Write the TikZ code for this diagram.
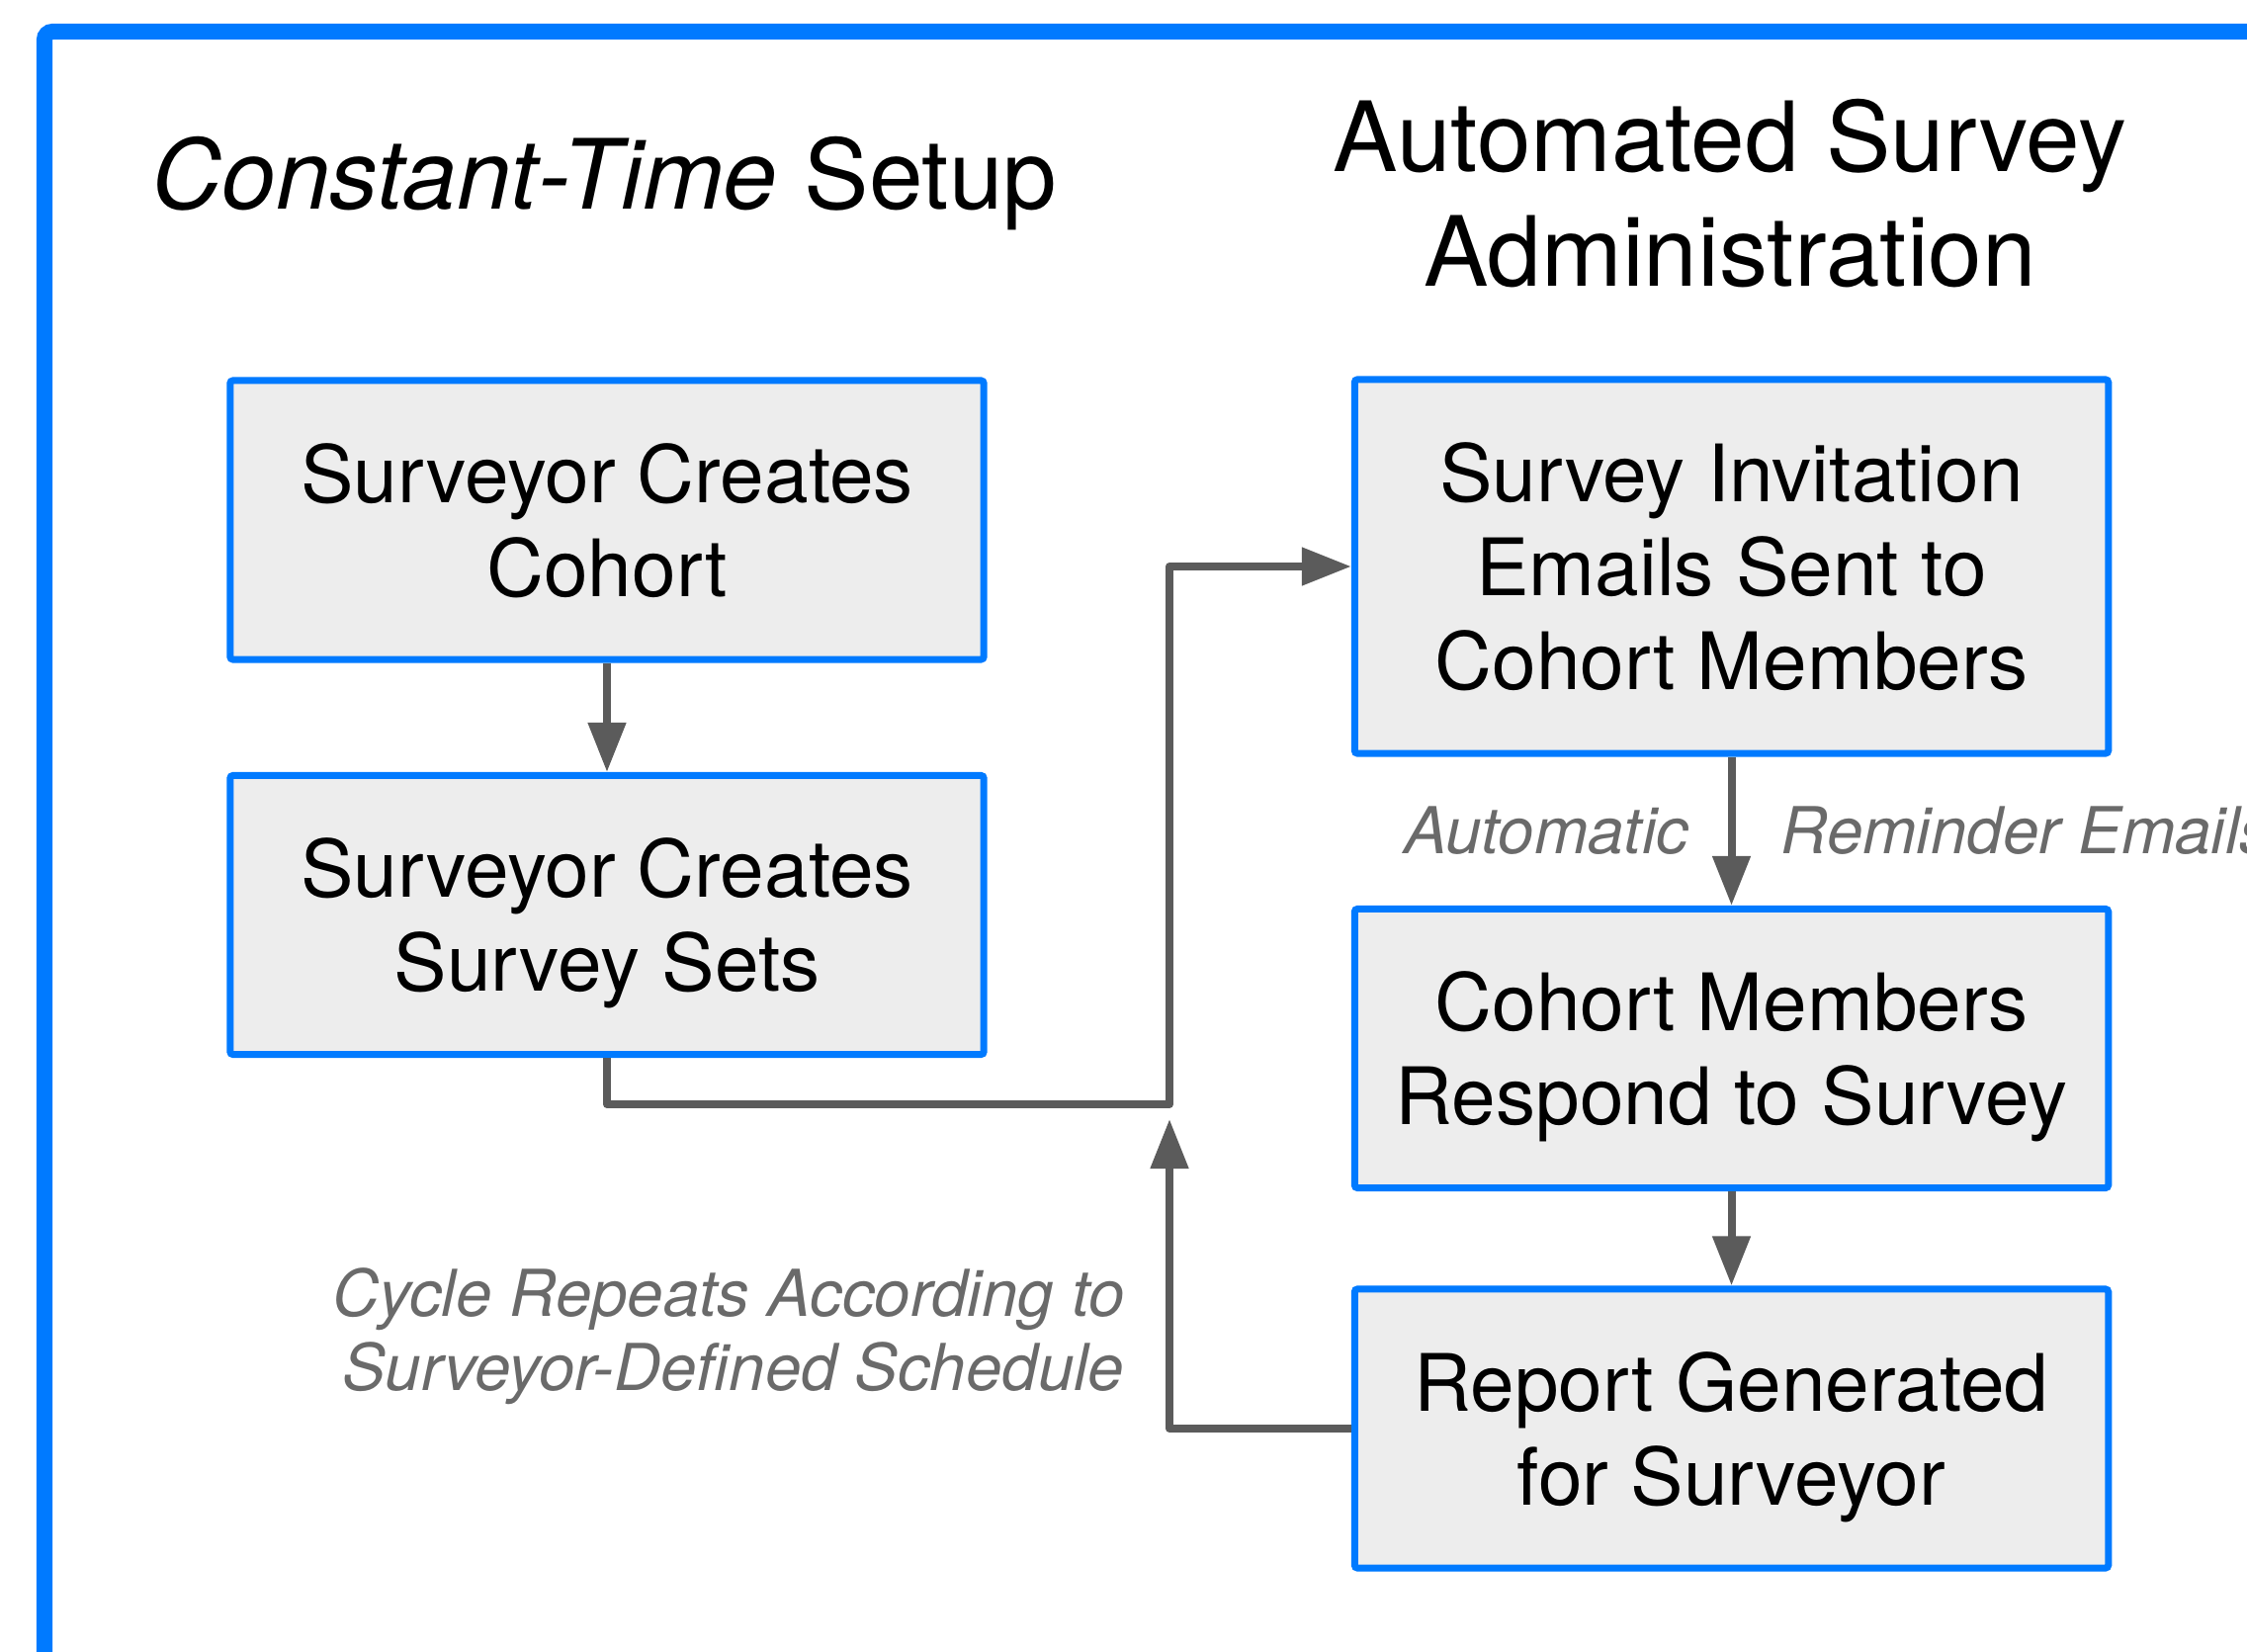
\documentclass[tikz,border=0pt]{standalone}
\usepackage{fontspec}
\setmainfont{TeX Gyre Heros}
\usetikzlibrary{arrows.meta}
\definecolor{boxblue}{HTML}{007AFF}
\definecolor{boxgray}{HTML}{EDEDED}
\definecolor{linegray}{HTML}{5B5B5B}
\definecolor{notegray}{HTML}{6A6A6A}

\begin{document}
\begin{tikzpicture}[x=0.01cm,y=-0.01cm]
	\tikzstyle{stage}=[draw=boxblue,fill=boxgray,line width=0.07cm,rounded corners=0.03cm,minimum width=7.62cm,minimum height=2.82cm,align=center,inner sep=0pt,text depth=0pt,font=\fontsize{22.8}{27}\selectfont]
	\tikzstyle{link}=[draw=linegray,line width=0.08cm,line join=round,-{Triangle[length=0.5cm,width=0.37cm]}]
	\tikzstyle{note}=[text=notegray,inner sep=0pt,font=\fontsize{18.6}{21.3}\selectfont\itshape]
	\tikzstyle{heading}=[inner sep=0pt,font=\fontsize{27.9}{33}\selectfont]
	\useasboundingbox (0,0) rectangle (2273,1671);
	\clip (0,0) rectangle (2273,1671);
	\fill[white] (0,0) rectangle (2273,1671);
	\draw[boxblue,line width=0.16cm,rounded corners=0.08cm] (45,1750) -- (45,32) -- (2350,32);
	\node[heading,anchor=base] (h1) at (611.5,212) {\textit{Constant-Time} Setup};
	\node[heading,align=center,text depth=0pt,anchor=south] (h2) at (1750,290) {Automated Survey\\Administration};
	\node[stage] (1) at (614,526) {Surveyor Creates\\Cohort};
	\node[stage] (2) at (614,925.5) {Surveyor Creates\\Survey Sets};
	\node[stage,minimum height=3.78cm] (3) at (1751.5,573) {Survey Invitation\\Emails Sent to\\Cohort Members};
	\node[stage] (4) at (1751.5,1060.5) {Cohort Members\\Respond to Survey};
	\node[stage] (5) at (1751.5,1445) {Report Generated\\for Surveyor};
	\node[note,anchor=base east] (a) at (1709,864) {Automatic};
	\node[note,anchor=base west] (b) at (1801,864) {Reminder Emails};
	\node[note,align=right,text depth=0pt,anchor=south east] (c) at (1138,1407) {Cycle Repeats According to\\Surveyor-Defined Schedule};
	\coordinate (m) at (1183,1117);
	\coordinate (r) at (1183,1132);
	\draw[link] (1) -- (2);
	\draw[link] (2) |- (m) |- (3);
	\draw[link] (3) -- (4);
	\draw[link] (4) -- (5);
	\draw[link] (5) -| (r);
\end{tikzpicture}
\end{document}
